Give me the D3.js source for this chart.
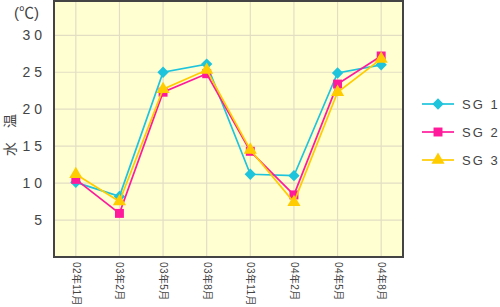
<!DOCTYPE html>
<html>
<head>
<meta charset="utf-8">
<script src="https://cdn.jsdelivr.net/npm/d3@7"></script>
<style>
  body { margin: 0; background: #fff; }
  svg text { font-family: "Liberation Sans", "Noto Sans CJK JP", sans-serif; fill: #444; }
</style>
</head>
<body>
<svg id="chart" width="500" height="307"></svg>
<script>
// data
const months = ["02年11月", "03年2月", "03年5月", "03年8月", "03年11月", "04年2月", "04年5月", "04年8月"];
const sg1 = [10.1, 8.2, 25.0, 26.1, 11.2, 11.0, 24.9, 26.0];
const sg2 = [10.5, 5.9, 22.3, 24.8, 14.3, 8.4, 23.4, 27.2];
const sg3 = [11.2, 7.5, 22.7, 25.3, 14.5, 7.4, 22.3, 26.8];
const yTicks = [5, 10, 15, 20, 25, 30];

const seriesNames = ["SG 1", "SG 2", "SG 3"];
const seriesColours = ["#1EC4DC", "#FF1A9C", "#FFCC00"];
// diamond = square turned 45 degrees
const seriesShapes = [d3.symbolSquare, d3.symbolSquare, d3.symbolTriangle];
const seriesRotate = [45, 0, 0];
const seriesSizes = [64, 80, 75];

const series = [sg1, sg2, sg3].map((vals, i) => ({
  name: seriesNames[i],
  colour: seriesColours[i],
  shape: seriesShapes[i],
  rot: seriesRotate[i],
  size: seriesSizes[i],
  values: vals.map((v, j) => ({ month: months[j], value: v }))
}));

const plot = { left: 54, right: 403, top: 1, bottom: 257 };

const svg = d3.select("#chart");

const x = d3.scalePoint()
  .domain(months)
  .range([plot.left, plot.right])
  .padding(0.5);

const y = d3.scaleLinear()
  .domain([0, 30])
  .range([plot.bottom, 35.3]);

// background
svg.append("rect")
  .attr("x", plot.left)
  .attr("y", plot.top)
  .attr("width", plot.right - plot.left)
  .attr("height", plot.bottom - plot.top)
  .attr("fill", "#FFFFD2");

// grid
svg.append("g")
  .selectAll("line.hgrid")
  .data(yTicks)
  .join("line")
  .attr("class", "hgrid")
  .attr("x1", plot.left).attr("x2", plot.right)
  .attr("y1", d => y(d)).attr("y2", d => y(d))
  .attr("stroke", "#E2DEC4")
  .attr("stroke-width", 1.2);

svg.append("g")
  .selectAll("line.vgrid")
  .data(months)
  .join("line")
  .attr("class", "vgrid")
  .attr("x1", d => x(d)).attr("x2", d => x(d))
  .attr("y1", plot.top).attr("y2", plot.bottom)
  .attr("stroke", "#E2DEC4")
  .attr("stroke-width", 1.2);

// frame
svg.append("rect")
  .attr("x", plot.left)
  .attr("y", plot.top)
  .attr("width", plot.right - plot.left)
  .attr("height", plot.bottom - plot.top)
  .attr("fill", "none")
  .attr("stroke", "#444")
  .attr("stroke-width", 2);

// y axis labels
const yAxis = svg.append("g")
  .attr("transform", `translate(${plot.left}, 0)`)
  .call(d3.axisLeft(y).tickValues(yTicks).tickSize(0).tickPadding(8));
yAxis.select(".domain").remove();
yAxis.selectAll("text")
  .attr("font-size", 14)
  .attr("letter-spacing", "4px")
  .attr("fill", "#444")
  .attr("font-family", "Liberation Sans, sans-serif");

// x axis labels, rotated
const xAxis = svg.append("g")
  .attr("transform", `translate(0, ${plot.bottom})`)
  .call(d3.axisBottom(x).tickSize(0).tickPadding(0));
xAxis.select(".domain").remove();
xAxis.selectAll("text")
  .attr("font-size", 10)
  .attr("letter-spacing", "0.4px")
  .attr("fill", "#444")
  .attr("font-family", "Noto Sans CJK JP, sans-serif")
  .attr("text-anchor", "start")
  .attr("dy", "0.35em")
  .attr("transform", "translate(0, 5) rotate(90)")
  .attr("x", 0)
  .attr("y", 0);

// unit + axis title
svg.append("text")
  .attr("x", 14)
  .attr("y", 18)
  .attr("font-size", 15)
  .attr("font-family", "Liberation Sans, sans-serif")
  .text("(℃)");

svg.append("text")
  .attr("transform", "translate(10, 135) rotate(-90)")
  .attr("text-anchor", "middle")
  .attr("dy", "0.35em")
  .attr("font-size", 14)
  .attr("fill", "#222")
  .attr("font-family", "Noto Sans CJK JP, sans-serif")
  .text("水　温");

// lines and markers
const line = d3.line()
  .x(d => x(d.month))
  .y(d => y(d.value));

const groups = svg.append("g")
  .selectAll("g.series")
  .data(series)
  .join("g")
  .attr("class", "series");

groups.append("path")
  .attr("d", d => line(d.values))
  .attr("fill", "none")
  .attr("stroke", d => d.colour)
  .attr("stroke-width", 1.7);

groups.selectAll("path.marker")
  .data(d => d.values.map(v => ({ ...v, s: d })))
  .join("path")
  .attr("class", "marker")
  .attr("transform", d => `translate(${x(d.month)}, ${y(d.value)}) rotate(${d.s.rot})`)
  .attr("d", d => d3.symbol(d.s.shape, d.s.size)())
  .attr("fill", d => d.s.colour);

// legend
const legend = svg.append("g")
  .selectAll("g.legend")
  .data(series)
  .join("g")
  .attr("class", "legend")
  .attr("transform", (d, i) => `translate(422, ${104 + i * 28})`);

legend.append("line")
  .attr("x1", 0).attr("x2", 32)
  .attr("stroke", d => d.colour)
  .attr("stroke-width", 1.7);

legend.append("path")
  .attr("transform", d => `translate(16, 0) rotate(${d.rot})`)
  .attr("d", d => d3.symbol(d.shape, d.size)())
  .attr("fill", d => d.colour);

legend.append("text")
  .attr("x", 40)
  .attr("dy", "0.35em")
  .attr("font-size", 13)
  .attr("letter-spacing", "2px")
  .attr("font-family", "Liberation Sans, sans-serif")
  .text(d => d.name);
</script>
</body>
</html>
